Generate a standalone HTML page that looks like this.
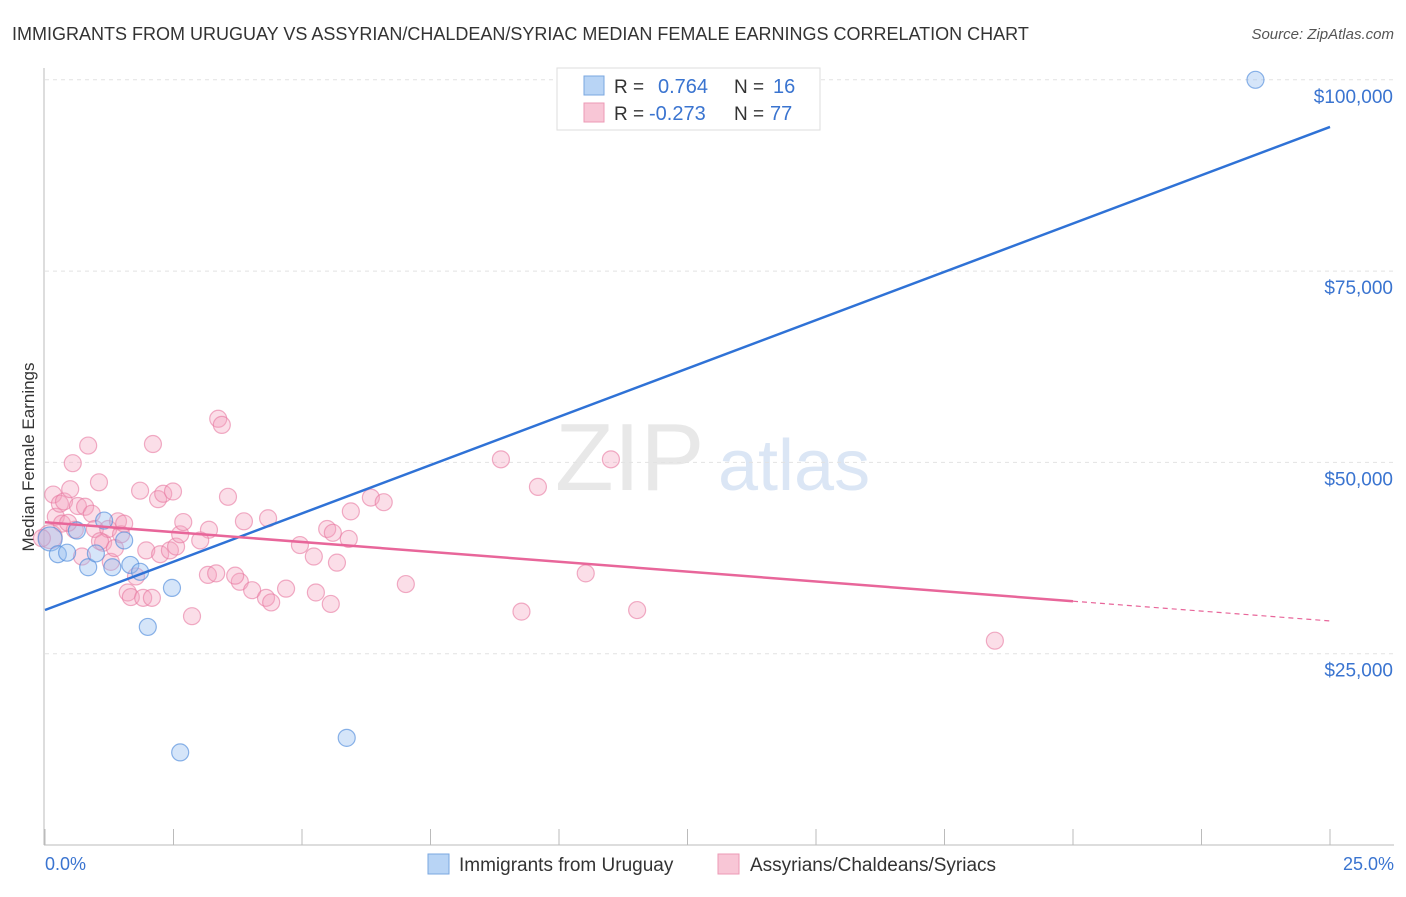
<!DOCTYPE html>
<html><head><meta charset="utf-8"><style>
body{margin:0;background:#fff;font-family:"Liberation Sans",sans-serif;}
svg text{font-family:"Liberation Sans",sans-serif;}
</style></head><body>
<svg id="chart" width="1406" height="892" xmlns="http://www.w3.org/2000/svg">
<text x="12" y="40" font-size="18" fill="#333">IMMIGRANTS FROM URUGUAY VS ASSYRIAN/CHALDEAN/SYRIAC MEDIAN FEMALE EARNINGS CORRELATION CHART</text>
<text x="1394" y="39" font-size="15" fill="#555" text-anchor="end" font-style="italic">Source: ZipAtlas.com</text>
<text transform="translate(34,457) rotate(-90)" font-size="17" fill="#333" text-anchor="middle">Median Female Earnings</text>
<g><text x="555" y="490" font-size="96" fill="#e8e8e8" font-family="Liberation Serif,serif">ZIP</text><text x="718" y="490" font-size="72" fill="#dbe6f5">atlas</text></g>
<g id="grid"></g><g id="axes"></g><g id="pts"></g><g id="lines"></g>
<g>
<rect x="557" y="68" width="263" height="62" fill="#fff" stroke="#ddd"/>
<rect x="584" y="76" width="20" height="19" fill="#b8d4f5" stroke="#7aa7e0"/>
<rect x="584" y="103" width="20" height="19" fill="#f8c6d6" stroke="#ec9ab5"/>
<text x="614" y="93" font-size="19" fill="#333">R =</text><text x="658" y="93" font-size="20" fill="#3a74d0">0.764</text>
<text x="734" y="93" font-size="19" fill="#333">N =</text><text x="773" y="93" font-size="20" fill="#3a74d0">16</text>
<text x="614" y="120" font-size="19" fill="#333">R =</text><text x="649" y="120" font-size="20" fill="#3a74d0">-0.273</text>
<text x="734" y="120" font-size="19" fill="#333">N =</text><text x="770" y="120" font-size="20" fill="#3a74d0">77</text>
</g>
<g>
<rect x="428" y="854" width="21" height="20" fill="#b8d4f5" stroke="#7aa7e0"/>
<text x="459" y="871" font-size="19" fill="#333">Immigrants from Uruguay</text>
<rect x="718" y="854" width="21" height="20" fill="#f8c6d6" stroke="#ec9ab5"/>
<text x="750" y="871" font-size="19" fill="#333">Assyrians/Chaldeans/Syriacs</text>
</g>
<text x="45" y="870" font-size="18" fill="#3a74d0">0.0%</text>
<text x="1394" y="870" font-size="18" fill="#3a74d0" text-anchor="end">25.0%</text>
</svg>
<script>
const yTicks=[25000,50000,75000,100000];
const yTickLabels=["$25,000","$50,000","$75,000","$100,000"];
const blueX=[0.1,0.25,0.43,0.62,0.84,0.99,1.15,1.31,1.54,1.66,1.85,2.0,2.47,2.63,5.87,23.55];
const blueY=[40000,38000,38200,41100,36300,38100,42400,36300,39800,36600,35700,28500,33600,12100,14000,100000];
const pinkX=[0.1,0.16,0.21,0.29,0.37,0.33,0.49,0.54,0.58,0.64,0.72,0.78,0.84,0.91,0.97,1.05,1.13,1.23,1.28,1.36,1.42,1.48,1.61,1.67,1.77,1.85,1.91,1.97,2.08,2.1,2.2,2.24,2.3,2.43,2.49,2.55,2.63,2.69,2.86,3.17,3.19,3.33,3.37,3.44,3.56,3.79,3.87,4.03,4.3,4.34,4.4,4.69,4.96,5.23,5.27,5.49,5.56,5.6,5.68,5.91,5.95,6.34,6.59,7.02,8.87,9.27,9.59,10.52,11.01,11.52,18.48,-0.06,0.45,1.07,1.54,3.02,3.7];
const pinkY=[40300,45800,42900,44600,44900,42000,46500,49900,41200,44300,37700,44200,52200,43300,41300,47400,39500,41300,37000,38800,42300,40600,33000,32400,35100,46300,32300,38500,32300,52400,45200,38000,45900,38500,46200,39000,40600,42200,29900,35300,41200,35500,55700,54900,45500,34400,42300,33300,32300,42700,31700,33500,39200,37700,33000,41300,31500,40800,36900,40000,43600,45400,44800,34100,50400,30500,46800,35500,50400,30700,26700,40100,42100,39700,42000,39800,35200];
const xMin=0,xMax=25,yMax=100000;
const X=v=>45+(v-xMin)/(xMax-xMin)*1285;
const Y=v=>845-v/25000*191.3;
const NS="http://www.w3.org/2000/svg";
function mk(tag,attrs,parent){const e=document.createElementNS(NS,tag);for(const k in attrs)e.setAttribute(k,attrs[k]);document.getElementById(parent).appendChild(e);return e;}
yTicks.forEach((t,i)=>{
 const g=mk('line',{x1:45,x2:1394,y1:Y(t),y2:Y(t),stroke:'#e2e2e2','stroke-dasharray':'4,4'},'grid');
 
 
 const l=mk('text',{x:1393,y:Y(t)+23,'font-size':19,fill:'#3a74d0','text-anchor':'end'},'grid');
 l.textContent=yTickLabels[i];
 
 
});
const ax=mk('line',{x1:44,x2:44,y1:68,y2:845,stroke:'#bbb'},'axes');


const bx=mk('line',{x1:44,x2:1394,y1:845,y2:845,stroke:'#bbb'},'axes');


for(let i=0;i<=10;i++){const t=mk('line',{x1:X(i*2.5),x2:X(i*2.5),y1:829,y2:845,stroke:'#bbb'},'axes');
 
 }
pinkX.forEach((v,i)=>{const c=mk('circle',{cx:X(v),cy:Y(pinkY[i]),r:(i==0?12:8.5),fill:'rgba(244,160,188,0.35)',stroke:'rgba(232,120,160,0.6)','stroke-width':1.2},'pts');
 
 });
blueX.forEach((v,i)=>{const c=mk('circle',{cx:X(v),cy:Y(blueY[i]),r:(i==0?12:8.5),fill:'rgba(150,190,240,0.4)',stroke:'rgba(80,140,220,0.65)','stroke-width':1.2},'pts');
 
 });
function fit(xs,ys){const n=xs.length;const mx=xs.reduce((a,b)=>a+b)/n,my=ys.reduce((a,b)=>a+b)/n;let sxy=0,sxx=0;xs.forEach((x,i)=>{sxy+=(x-mx)*(ys[i]-my);sxx+=(x-mx)**2});const b=sxy/sxx;return[my-b*mx,b];}
const [ba,bb]=fit(blueX,blueY);
const bl=mk('line',{x1:X(0),y1:Y(ba),x2:X(25),y2:Y(ba+bb*25),stroke:'#2f72d6','stroke-width':2.5},'lines');


const [pa,pb]=fit(pinkX,pinkY);
const pl=mk('line',{x1:X(0),y1:Y(pa),x2:X(20),y2:Y(pa+pb*20),stroke:'#e8669a','stroke-width':2.5},'lines');


const pd=mk('line',{x1:X(20),y1:Y(pa+pb*20),x2:X(25),y2:Y(pa+pb*25),stroke:'#e8669a','stroke-width':1.2,'stroke-dasharray':'5,4'},'lines');


</script>
</body></html>
